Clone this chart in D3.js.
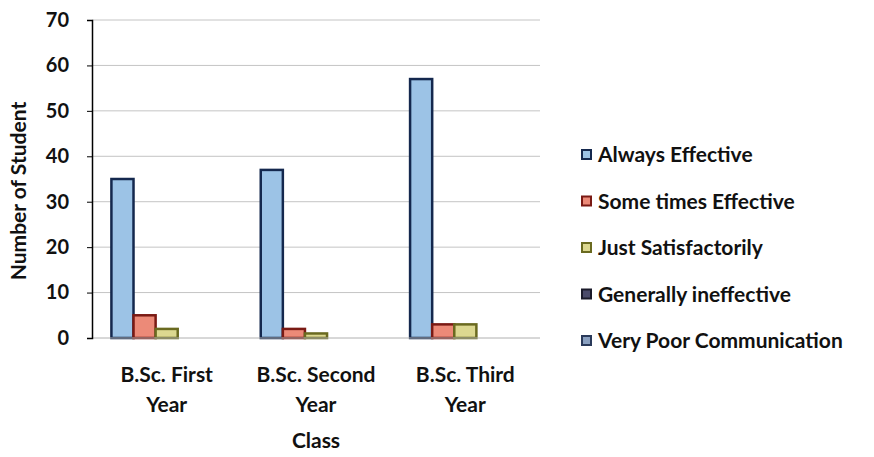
<!DOCTYPE html>
<html>
<head>
<meta charset="utf-8">
<script src="https://cdn.jsdelivr.net/npm/d3@7"></script>
<style>
  body { margin: 0; background: #fff; }
  text { font-family: Lato, "Open Sans", sans-serif; font-weight: 700; fill: #111; }
</style>
</head>
<body>
<div id="chart"></div>
<script>
// Data
var classes = ['B.Sc. First Year', 'B.Sc. Second Year', 'B.Sc. Third Year'];
var classLines = [['B.Sc. First', 'Year'], ['B.Sc. Second', 'Year'], ['B.Sc. Third', 'Year']];
var seriesNames = ['Always Effective', 'Some times Effective', 'Just Satisfactorily', 'Generally ineffective', 'Very Poor Communication'];
var alwaysEffective = [35, 37, 57];
var sometimesEffective = [5, 2, 3];
var justSatisfactorily = [2, 1, 3];
var generallyIneffective = [0, 0, 0];
var veryPoor = [0, 0, 0];
var yTicks = [0, 10, 20, 30, 40, 50, 60, 70];

var seriesValues = [alwaysEffective, sometimesEffective, justSatisfactorily, generallyIneffective, veryPoor];
var fills = ['#9cc3e6', '#ec8a78', '#dcd890', '#4a4a6a', '#8aa0c0'];
var strokes = ['#14284e', '#7a1a14', '#6a6a20', '#1a1a2a', '#2a3a5a'];

var width = 874, height = 457;
var margin = { top: 20, right: 334, bottom: 119, left: 92 };
var w = width - margin.left - margin.right;
var h = height - margin.top - margin.bottom;

var svg = d3.select('#chart').append('svg')
    .attr('width', width)
    .attr('height', height);

var g = svg.append('g')
    .attr('transform', 'translate(' + margin.left + ',' + margin.top + ')');

var yScale = d3.scaleLinear().domain([0, 70]).range([h, 0]);
var xScale = d3.scaleBand().domain(classes).range([0, w])
    .paddingInner(0.26).paddingOuter(0.13);
var xInner = d3.scaleBand().domain(seriesNames).range([0, xScale.bandwidth()]).padding(0);

// gridlines
g.selectAll('line.grid')
    .data(yTicks.filter(d => d > 0))
    .enter().append('line')
    .attr('class', 'grid')
    .attr('x1', 0).attr('x2', w)
    .attr('y1', d => yScale(d)).attr('y2', d => yScale(d))
    .attr('stroke', '#c4c4c4').attr('stroke-width', 1);

// bars
var table = [];
classes.forEach(function(c, i) {
    seriesNames.forEach(function(s, j) {
        table.push({ cls: c, series: s, idx: j, value: seriesValues[j][i] });
    });
});

g.selectAll('rect.bar')
    .data(table.filter(d => d.value > 0))
    .enter().append('rect')
    .attr('class', 'bar')
    .attr('x', d => xScale(d.cls) + xInner(d.series))
    .attr('width', xInner.bandwidth())
    .attr('y', d => yScale(d.value))
    .attr('height', d => yScale(0) - yScale(d.value))
    .attr('fill', d => fills[d.idx])
    .attr('stroke', d => strokes[d.idx])
    .attr('stroke-width', 2.5);

// bottom baseline
g.append('line')
    .attr('x1', 0).attr('x2', w)
    .attr('y1', h).attr('y2', h)
    .attr('stroke', '#b0b0b0');

// y axis
var yAxis = g.append('g')
    .call(d3.axisLeft(yScale).tickValues(yTicks).tickSize(5).tickPadding(18));
yAxis.select('.domain').attr('stroke', '#000').attr('stroke-width', 1.5);
yAxis.selectAll('.tick line').attr('stroke', '#000');
yAxis.selectAll('.tick text')
    .style('font-size', '20px')
    .style('font-family', 'Lato, sans-serif')
    .style('font-weight', '700')
    .attr('fill', '#111');

// category labels
classes.forEach(function(c, i) {
    var t = g.append('text')
        .attr('x', xScale(c) + xScale.bandwidth() / 2)
        .attr('y', h + 44)
        .attr('text-anchor', 'middle')
        .style('font-size', '21px');
    classLines[i].forEach(function(line, k) {
        t.append('tspan')
            .attr('x', xScale(c) + xScale.bandwidth() / 2)
            .attr('dy', k === 0 ? 0 : 30)
            .text(line);
    });
});

// axis titles
g.append('text')
    .attr('x', w / 2)
    .attr('y', h + 110)
    .attr('text-anchor', 'middle')
    .style('font-size', '21px')
    .text('Class');

svg.append('text')
    .attr('transform', 'translate(26,' + (margin.top + h / 2 + 12) + ') rotate(-90)')
    .attr('text-anchor', 'middle')
    .style('font-size', '21px')
    .text('Number of Student');

// legend
var legend = svg.append('g').attr('transform', 'translate(582,155)');
var items = legend.selectAll('g')
    .data(seriesNames)
    .enter().append('g')
    .attr('transform', (d, i) => 'translate(0,' + i * 46.5 + ')');
items.append('rect')
    .attr('x', 0).attr('y', -5)
    .attr('width', 9).attr('height', 9)
    .attr('fill', (d, i) => fills[i])
    .attr('stroke', (d, i) => strokes[i])
    .attr('stroke-width', 2);
items.append('text')
    .attr('x', 16).attr('y', 7)
    .style('font-size', '21px')
    .text(d => d);
</script>
</body>
</html>
